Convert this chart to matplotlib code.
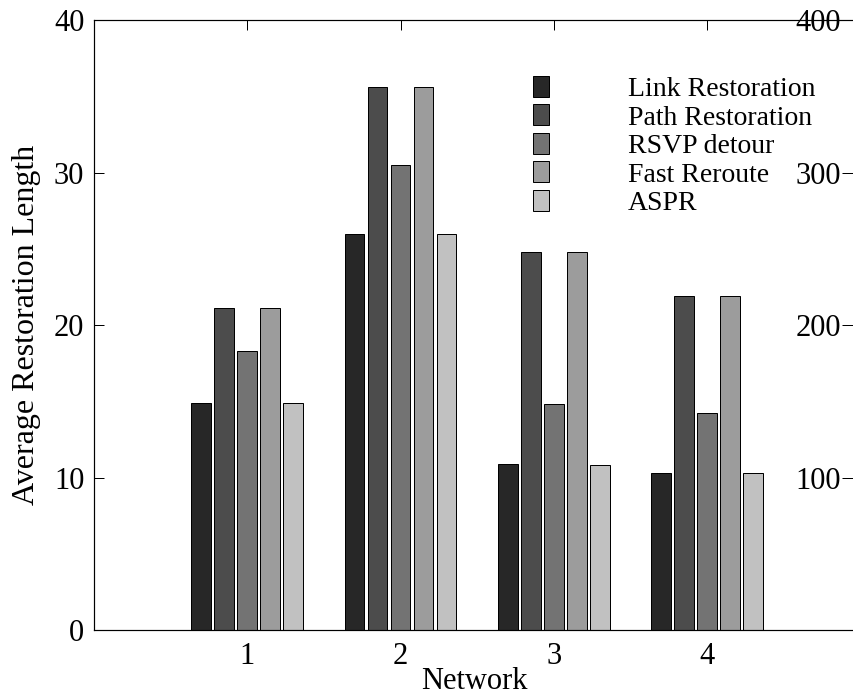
import matplotlib
matplotlib.use("Agg")
import matplotlib.pyplot as plt
import numpy as np

plt.rcParams['font.family'] = ['Liberation Serif', 'DejaVu Serif']

networks = [1, 2, 3, 4]
series_names = ["Link Restoration", "Path Restoration", "RSVP detour", "Fast Reroute", "ASPR"]
link_restoration = [14.9, 26.0, 10.9, 10.3]
path_restoration = [21.1, 35.6, 24.8, 21.9]
rsvp_detour = [18.3, 30.5, 14.8, 14.2]
fast_reroute = [21.1, 35.6, 24.8, 21.9]
aspr = [14.9, 26.0, 10.8, 10.3]
left_ticks = [0, 10, 20, 30, 40]
right_ticks = [100, 200, 300, 400]

series = [link_restoration, path_restoration, rsvp_detour, fast_reroute, aspr]
colors = ["#272727", "#4c4c4c", "#737373", "#9c9c9c", "#c1c1c1"]

W, H, DPI = 854, 697, 100
fig = plt.figure(figsize=(W / DPI, H / DPI), dpi=DPI)
px = 72.0 / DPI  # points per pixel

L, R, T, B = 94, 854, 20, 630
ax = fig.add_axes([L / W, 1 - B / H, (R - L) / W, (B - T) / H])

unit = 153.3
ax.set_xlim(0, (R - L) / unit)
ax.set_ylim(0, 40)

x = np.array(networks, dtype=float)
pitch, width = 0.150, 0.128
for i, (vals, c, name) in enumerate(zip(series, colors, series_names)):
    ax.bar(x + (i - 2) * pitch, vals, width=width, color=c, edgecolor="black",
           linewidth=1.0 * px, label=name, zorder=2)

ax.set_xticks(networks)
ax.set_xticklabels([str(n) for n in networks])
ax.set_yticks(left_ticks)
ax.tick_params(axis='both', direction='in', length=10 * px, width=1.0 * px,
               labelsize=22, top=True, right=False, labeltop=False)
ax.tick_params(axis='x', pad=9)
ax.tick_params(axis='y', pad=7)
for s in ['top', 'left', 'bottom']:
    ax.spines[s].set_linewidth(1.2 * px)
ax.spines['right'].set_visible(False)

ax.set_xlabel("Network", fontsize=22, labelpad=-3)
ax.set_ylabel("Average Restoration Length", fontsize=23, labelpad=9)

ax2 = ax.twinx()
ax2.set_ylim(0, 400)
ax2.set_yticks(right_ticks)
ax2.tick_params(axis='y', direction='in', length=12 * px, width=1.0 * px,
                labelsize=22, pad=-13 * px)
for lab in ax2.get_yticklabels():
    lab.set_horizontalalignment('right')
for s in ax2.spines.values():
    s.set_visible(False)

leg = ax.legend(loc='upper left', bbox_to_anchor=(533 / W, 1 - 76 / H),
                bbox_transform=fig.transFigure, frameon=False, fontsize=20,
                handlelength=0.565, handleheight=0.78, handletextpad=2.84,
                labelspacing=0.085, borderpad=0, borderaxespad=0)

fig.savefig("out.png", dpi=DPI)
